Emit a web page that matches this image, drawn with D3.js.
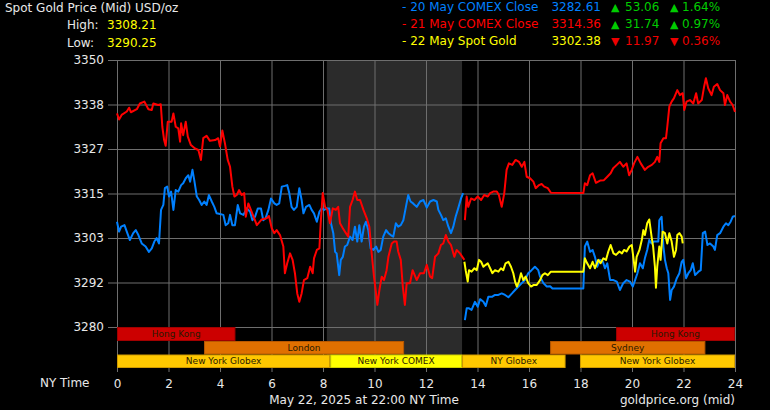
<!DOCTYPE html>
<html>
<head>
<meta charset="utf-8">
<script src="https://cdn.jsdelivr.net/npm/d3@7"></script>
<style>
  body { margin: 0; background: #000; }
  svg { display: block; font-family: "DejaVu Sans", Verdana, sans-serif; }
</style>
</head>
<body>
<svg id="svg"></svg>
<script>
// hours (NY time) and prices; null marks a break in the line
const may20Comex = [
  [0.00,3307.6],[0.08,3305.0],[0.16,3306.3],[0.29,3306.7],[0.38,3305.0],[0.50,3302.8],[0.63,3304.6],[0.73,3305.4],
  [0.83,3304.1],[0.96,3301.9],[1.11,3301.1],[1.24,3299.7],[1.35,3300.6],[1.45,3302.4],[1.54,3303.3],[1.63,3301.9],
  [1.71,3310.7],[1.80,3312.0],[1.86,3316.4],[1.95,3316.8],[2.02,3314.2],[2.10,3315.5],[2.19,3310.7],[2.28,3315.9],
  [2.38,3315.5],[2.49,3317.2],[2.57,3317.7],[2.67,3319.0],[2.77,3319.8],[2.84,3318.1],[2.93,3321.2],[3.00,3318.5],
  [3.10,3314.2],[3.19,3313.3],[3.29,3312.0],[3.39,3312.9],[3.48,3312.0],[3.57,3314.6],[3.68,3312.9],[3.78,3311.5],
  [3.87,3309.8],[4.00,3309.6],[4.13,3309.4],[4.22,3306.7],[4.32,3307.2],[4.39,3309.4],[4.48,3306.7],[4.58,3306.7],
  [4.69,3312.0],[4.78,3309.8],[4.91,3309.4],[5.04,3311.1],[5.17,3310.2],[5.26,3308.0],[5.36,3308.9],[5.47,3311.1],
  [5.59,3311.1],[5.68,3308.0],[5.77,3308.5],[5.88,3310.7],[5.98,3313.7],[6.11,3312.4],[6.20,3312.0],[6.30,3312.4],
  [6.40,3316.8],[6.52,3317.0],[6.61,3317.2],[6.69,3315.1],[6.78,3311.5],[6.87,3310.7],[6.98,3311.5],[7.08,3316.4],
  [7.17,3313.3],[7.24,3309.8],[7.34,3311.5],[7.47,3312.0],[7.56,3310.7],[7.65,3309.8],[7.76,3307.6],[7.86,3310.2],
  [7.95,3311.1],[8.04,3310.7],[8.14,3311.1],[8.24,3311.1],[8.31,3307.2],[8.40,3304.6],[8.47,3299.7],[8.53,3299.3],
  [8.63,3293.6],[8.69,3297.6],[8.77,3298.4],[8.85,3301.1],[8.94,3301.5],[9.05,3303.7],[9.15,3302.8],[9.24,3306.3],
  [9.33,3302.4],[9.41,3306.7],[9.50,3302.4],[9.59,3306.3],[9.67,3307.6],[9.76,3305.4],[9.85,3300.6],[9.96,3300.2],
  [10.06,3301.1],[10.15,3299.7],[10.24,3300.2],[10.34,3303.7],[10.45,3305.4],[10.54,3304.6],[10.63,3304.1],[10.73,3303.7],
  [10.83,3307.2],[10.92,3306.3],[11.02,3306.7],[11.12,3308.0],[11.22,3311.5],[11.31,3314.6],[11.40,3312.9],[11.50,3312.4],
  [11.64,3311.5],[11.77,3312.9],[11.90,3313.3],[12.03,3311.3],[12.16,3312.9],[12.29,3313.3],[12.42,3312.9],[12.48,3310.7],
  [12.58,3309.4],[12.67,3308.0],[12.77,3308.5],[12.87,3306.3],[12.97,3304.6],[13.06,3306.3],[13.15,3308.9],[13.25,3311.1],
  [13.36,3313.7],[13.44,3315.1],[13.47,null],
  [13.51,3281.8],[13.58,3284.9],[13.67,3284.9],[13.77,3284.5],[13.90,3286.6],[14.01,3285.3],[14.10,3287.3],[14.23,3286.6],
  [14.32,3285.5],[14.42,3287.9],[14.56,3287.9],[14.68,3288.4],[14.81,3288.4],[14.94,3288.8],[15.07,3288.4],[15.20,3287.8],
  [15.34,3288.8],[15.46,3289.7],[15.59,3290.6],[15.72,3291.5],[15.84,3292.3],[15.97,3294.1],[16.10,3294.9],[16.23,3295.8],
  [16.36,3294.9],[16.43,3293.2],[16.56,3291.5],[16.69,3290.6],[16.82,3290.7],[16.91,3290.1],[18.11,3290.1],[18.17,3301.1],
  [18.26,3302.4],[18.37,3299.7],[18.47,3300.2],[18.56,3298.4],[18.65,3295.8],[18.76,3297.6],[18.87,3297.1],[18.95,3295.4],
  [19.04,3296.7],[19.15,3292.3],[19.28,3292.3],[19.41,3291.9],[19.53,3289.7],[19.66,3291.5],[19.79,3292.3],[19.92,3291.9],
  [20.03,3290.6],[20.12,3292.3],[20.21,3294.1],[20.31,3296.7],[20.42,3295.4],[20.50,3298.0],[20.59,3300.2],[20.67,3302.8],
  [20.76,3301.9],[20.85,3302.4],[20.93,3302.4],[21.02,3302.4],[21.06,3308.0],[21.15,3308.9],[21.22,3301.1],[21.28,3297.6],
  [21.35,3295.4],[21.41,3294.1],[21.48,3287.1],[21.54,3289.7],[21.63,3290.6],[21.74,3292.8],[21.84,3294.1],[21.93,3297.1],
  [21.99,3297.6],[22.10,3292.8],[22.19,3294.1],[22.28,3294.9],[22.36,3296.7],[22.45,3293.6],[22.58,3294.5],[22.67,3294.9],
  [22.75,3304.6],[22.84,3305.0],[22.93,3301.5],[23.03,3301.9],[23.16,3301.1],[23.22,3300.2],[23.31,3304.1],[23.42,3304.6],
  [23.55,3306.3],[23.65,3307.2],[23.74,3306.7],[23.83,3307.6],[23.91,3308.9],[24.00,3309.1]
];

const may21Comex = [
  [0.00,3336.0],[0.08,3334.4],[0.18,3335.6],[0.38,3336.5],[0.47,3337.5],[0.54,3336.3],[0.77,3337.1],[0.89,3338.6],
  [1.06,3339.1],[1.22,3337.1],[1.35,3336.9],[1.41,3338.6],[1.60,3338.2],[1.70,3338.4],[1.76,3332.5],[1.83,3329.0],
  [1.89,3327.5],[1.97,3333.8],[2.12,3333.8],[2.19,3336.0],[2.28,3332.5],[2.38,3332.1],[2.45,3328.6],[2.49,3333.4],
  [2.57,3330.3],[2.67,3333.8],[2.75,3329.9],[2.87,3327.7],[3.03,3326.8],[3.16,3326.4],[3.26,3323.8],[3.35,3329.5],
  [3.48,3330.1],[3.61,3328.8],[3.81,3329.0],[3.93,3329.5],[4.00,3327.3],[4.09,3331.5],[4.19,3328.2],[4.30,3323.8],
  [4.39,3322.0],[4.48,3316.8],[4.56,3314.2],[4.65,3314.6],[4.74,3315.9],[4.84,3314.6],[4.94,3315.1],[5.00,3308.9],
  [5.10,3312.4],[5.23,3310.2],[5.43,3306.7],[5.62,3308.2],[5.81,3308.5],[5.90,3309.1],[6.01,3305.9],[6.11,3304.6],
  [6.20,3305.4],[6.33,3304.1],[6.46,3301.1],[6.52,3294.1],[6.61,3296.7],[6.72,3299.3],[6.82,3297.6],[6.91,3294.1],
  [7.00,3288.8],[7.08,3286.6],[7.17,3288.8],[7.26,3292.3],[7.39,3292.8],[7.50,3295.8],[7.60,3294.1],[7.65,3298.0],
  [7.76,3300.2],[7.86,3300.6],[7.91,3307.2],[7.99,3315.1],[8.08,3311.5],[8.17,3310.7],[8.27,3307.2],[8.38,3311.1],
  [8.50,3310.7],[8.59,3311.5],[8.66,3307.2],[8.77,3305.9],[8.89,3304.6],[8.98,3303.7],[9.05,3311.5],[9.15,3313.3],
  [9.24,3315.5],[9.33,3313.3],[9.44,3313.3],[9.57,3310.7],[9.70,3308.5],[9.80,3306.3],[9.89,3299.3],[9.98,3293.2],
  [10.06,3288.8],[10.11,3285.8],[10.19,3289.7],[10.28,3293.2],[10.37,3292.3],[10.47,3294.9],[10.54,3298.4],[10.67,3301.9],
  [10.76,3302.4],[10.86,3302.4],[10.92,3299.8],[11.02,3297.6],[11.10,3290.6],[11.18,3285.8],[11.25,3291.5],[11.38,3291.5],
  [11.48,3294.9],[11.64,3292.3],[11.77,3294.1],[11.92,3294.1],[12.03,3296.3],[12.16,3293.2],[12.24,3292.8],[12.35,3298.4],
  [12.48,3299.3],[12.58,3301.5],[12.67,3301.9],[12.77,3304.1],[12.87,3302.4],[12.97,3301.5],[13.10,3298.4],[13.19,3300.2],
  [13.32,3299.3],[13.41,3298.4],[13.49,3297.6],[13.50,null],
  [13.51,3308.0],[13.58,3314.2],[13.64,3311.5],[13.75,3313.7],[13.88,3313.3],[14.01,3314.2],[14.14,3313.3],[14.26,3314.6],
  [14.40,3314.2],[14.49,3315.1],[14.61,3315.5],[14.75,3315.5],[14.83,3314.6],[14.94,3311.5],[15.04,3315.1],[15.13,3321.2],
  [15.22,3322.9],[15.35,3322.5],[15.48,3323.8],[15.61,3323.3],[15.72,3322.0],[15.82,3323.3],[15.91,3319.4],[16.04,3319.0],
  [16.17,3318.1],[16.26,3316.4],[16.39,3317.2],[16.49,3317.5],[16.59,3316.8],[16.73,3316.4],[16.85,3315.2],[18.11,3315.1],
  [18.17,3317.7],[18.26,3317.2],[18.37,3319.8],[18.47,3320.3],[18.60,3317.8],[18.76,3318.4],[18.91,3318.5],[19.04,3319.4],
  [19.17,3320.3],[19.27,3321.6],[19.41,3322.5],[19.53,3323.3],[19.66,3322.0],[19.79,3322.9],[19.89,3319.8],[19.99,3321.2],
  [20.08,3322.9],[20.21,3324.6],[20.34,3322.9],[20.50,3321.2],[20.63,3322.0],[20.77,3322.5],[20.89,3323.3],[20.98,3324.6],
  [21.06,3323.3],[21.11,3328.2],[21.22,3329.5],[21.32,3329.5],[21.37,3332.5],[21.45,3337.8],[21.54,3339.1],[21.63,3340.0],
  [21.76,3342.1],[21.86,3340.8],[21.97,3341.3],[22.03,3336.9],[22.12,3339.1],[22.25,3339.5],[22.38,3338.6],[22.49,3341.3],
  [22.57,3338.6],[22.71,3339.5],[22.80,3343.0],[22.87,3345.2],[22.96,3342.6],[23.09,3340.8],[23.18,3343.0],[23.31,3343.7],
  [23.42,3342.1],[23.55,3341.3],[23.61,3338.2],[23.70,3340.8],[23.81,3339.1],[23.91,3338.2],[24.00,3336.4]
];

const may22Spot = [
  [13.49,3297.1],[13.54,3294.9],[13.62,3291.9],[13.67,3294.9],[13.77,3294.5],[13.88,3295.4],[13.97,3294.9],[14.06,3297.6],
  [14.14,3297.1],[14.23,3295.8],[14.32,3296.3],[14.40,3296.7],[14.49,3295.4],[14.58,3294.1],[14.68,3294.9],[14.81,3294.5],
  [14.91,3295.4],[15.00,3294.9],[15.09,3296.7],[15.20,3297.1],[15.30,3295.8],[15.39,3294.1],[15.46,3291.9],[15.53,3290.6],
  [15.61,3291.9],[15.69,3294.1],[15.78,3292.3],[15.87,3293.2],[15.97,3291.5],[16.08,3290.6],[16.17,3291.0],[16.30,3291.0],
  [16.43,3292.3],[16.52,3293.6],[16.62,3294.1],[16.73,3293.6],[16.85,3294.5],[16.98,3294.5],[18.11,3294.5],[18.17,3298.0],
  [18.26,3296.7],[18.37,3295.4],[18.47,3297.1],[18.56,3295.4],[18.69,3297.6],[18.78,3296.7],[18.89,3298.0],[18.99,3297.6],
  [19.08,3299.8],[19.17,3301.5],[19.28,3299.3],[19.38,3298.9],[19.51,3299.8],[19.61,3299.3],[19.69,3300.2],[19.79,3299.8],
  [19.90,3301.1],[19.99,3301.5],[20.05,3298.4],[20.12,3294.5],[20.18,3298.4],[20.29,3300.2],[20.38,3302.8],[20.44,3305.4],
  [20.50,3304.1],[20.59,3307.2],[20.67,3308.2],[20.76,3303.7],[20.82,3301.1],[20.89,3295.8],[20.93,3290.3],[20.98,3295.8],
  [21.06,3301.1],[21.11,3297.6],[21.19,3305.0],[21.28,3304.6],[21.37,3301.9],[21.45,3304.6],[21.54,3302.4],[21.63,3298.4],
  [21.71,3300.2],[21.76,3304.1],[21.84,3304.6],[21.93,3303.7],[21.97,3301.9]
];

// trading sessions: row 0 = top
const sessionNames = ["Hong Kong", "London", "New York Globex", "New York COMEX", "NY Globex", "Sydney", "New York Globex", "Hong Kong"];
const sessionRows  = [0, 1, 2, 2, 2, 1, 2, 0];
const sessionStart = [0, 3.38, 0, 8.28, 13.4, 16.82, 17.98, 19.38];
const sessionEnd   = [4.6, 11.15, 8.28, 13.4, 17.42, 22.85, 24, 24];
const comexHours = [8.15, 13.4];

const xTicks = [0, 2, 4, 6, 8, 10, 12, 14, 16, 18, 20, 22, 24];
const yTicks = d3.range(7).map(i => 3280 + i * 70 / 6);

const legendLabels  = ["- 20 May COMEX Close", "- 21 May COMEX Close", "- 22 May Spot Gold"];
const legendValues  = ["3282.61", "3314.36", "3302.38"];
const legendChanges = ["53.06", "31.74", "11.97"];
const legendPcts    = ["1.64%", "0.97%", "0.36%"];
const legendUp      = [true, true, false];
const highLow = [["High:", "3308.21"], ["Low:", "3290.25"]];

function sketch() {
  const svg = d3.select("#svg").attr("width", 770).attr("height", 410);
  const textColor = "#e8e8e8";
  const gridColor = "#6e6e6e";
  const lineColors = ["#0080ff", "#ff0000", "#ffff00"];
  const sessionFill = {
    "Hong Kong": "#cc0000", "London": "#e07000", "Sydney": "#e07000",
    "New York Globex": "#ffc800", "NY Globex": "#ffc800", "New York COMEX": "#ffff00"
  };
  const sessionStroke = {
    "Hong Kong": "#a00000", "London": "#b85800", "Sydney": "#b85800",
    "New York Globex": "#d09a00", "NY Globex": "#d09a00", "New York COMEX": "#d0d000"
  };

  const x = d3.scaleLinear().domain([0, 24]).range([117, 735]);
  const y = d3.scaleLinear().domain([3280, 3350]).range([327, 60]);
  const rowTop = [327, 341, 354.5];
  const rowH = [14, 13.5, 13.5];

  // comex shading
  svg.append("rect")
    .attr("x", x(comexHours[0])).attr("y", 60)
    .attr("width", x(comexHours[1]) - x(comexHours[0]))
    .attr("height", 308)
    .attr("fill", "#2b2b2b");

  // y axis + horizontal grid
  const yAxis = svg.append("g")
    .attr("transform", "translate(108,0)")
    .call(d3.axisLeft(y).tickValues(yTicks).tickFormat(d3.format(".0f"))
      .tickSizeInner(-627).tickSizeOuter(0).tickPadding(4));
  yAxis.select(".domain").remove();
  yAxis.selectAll("line").attr("stroke", gridColor);
  yAxis.selectAll("text").attr("fill", textColor).attr("font-size", 12)
    .attr("font-family", "DejaVu Sans");

  // x axis + vertical grid
  const xAxis = svg.append("g")
    .attr("transform", "translate(0,372)")
    .call(d3.axisBottom(x).tickValues(xTicks).tickFormat(d3.format("d"))
      .tickSizeInner(-312).tickSizeOuter(0).tickPadding(7));
  xAxis.select(".domain").remove();
  xAxis.selectAll("line").attr("stroke", gridColor);
  xAxis.selectAll("text").attr("fill", textColor).attr("font-size", 12)
    .attr("font-family", "DejaVu Sans");

  // sessions
  const sess = svg.append("g").selectAll("g")
    .data(sessionNames.map((n, i) => ({ name: n, row: sessionRows[i], s: sessionStart[i], e: sessionEnd[i] })))
    .enter().append("g");
  sess.append("rect")
    .attr("x", d => x(d.s) + 0.5)
    .attr("y", d => rowTop[d.row] + 0.5)
    .attr("width", d => x(d.e) - x(d.s) - 1)
    .attr("height", d => rowH[d.row] - 1)
    .attr("fill", d => sessionFill[d.name])
    .attr("stroke", d => sessionStroke[d.name])
    .attr("stroke-width", 1);
  sess.append("text")
    .attr("x", d => (x(d.s) + x(d.e)) / 2)
    .attr("y", d => rowTop[d.row] + rowH[d.row] / 2)
    .attr("dy", "0.35em")
    .attr("text-anchor", "middle")
    .attr("font-size", 9)
    .attr("fill", "#2a1a00")
    .text(d => d.name);

  // price lines
  const line = d3.line()
    .defined(d => d[1] != null)
    .x(d => x(d[0]))
    .y(d => y(d[1]));
  svg.append("g").selectAll("path")
    .data([may20Comex, may21Comex, may22Spot])
    .enter().append("path")
    .attr("d", line)
    .attr("fill", "none")
    .attr("stroke", (d, i) => lineColors[i])
    .attr("stroke-width", 2)
    .attr("stroke-linejoin", "round");

  // header
  svg.append("text").attr("x", 5).attr("y", 8).attr("dy", "0.35em")
    .attr("font-size", 12).attr("fill", textColor)
    .text("Spot Gold Price (Mid) USD/oz");
  highLow.forEach((hl, i) => {
    svg.append("text").attr("x", 67).attr("y", 25 + i * 18).attr("dy", "0.35em")
      .attr("font-size", 12).attr("fill", textColor).text(hl[0]);
    svg.append("text").attr("x", 107).attr("y", 25 + i * 18).attr("dy", "0.35em")
      .attr("font-size", 12).attr("fill", "#ffff00").text(hl[1]);
  });

  // legend
  const leg = svg.append("g").selectAll("g")
    .data(legendLabels).enter().append("g")
    .attr("transform", (d, i) => `translate(0,${7 + i * 17})`);
  leg.append("text").attr("x", 402).attr("dy", "0.35em").attr("font-size", 12)
    .attr("fill", (d, i) => lineColors[i]).text(d => d);
  leg.append("text").attr("x", 601).attr("dy", "0.35em").attr("font-size", 12)
    .attr("text-anchor", "end")
    .attr("fill", (d, i) => lineColors[i]).text((d, i) => legendValues[i]);
  const chg = (d, i) => legendUp[i] ? "#00cc00" : "#ee0000";
  leg.append("text").attr("x", 611).attr("dy", "0.35em").attr("font-size", 11)
    .attr("fill", chg).text((d, i) => legendUp[i] ? "▲" : "▼");
  leg.append("text").attr("x", 625).attr("dy", "0.35em").attr("font-size", 12)
    .attr("fill", chg).text((d, i) => legendChanges[i]);
  leg.append("text").attr("x", 670).attr("dy", "0.35em").attr("font-size", 11)
    .attr("fill", chg).text((d, i) => legendUp[i] ? "▲" : "▼");
  leg.append("text").attr("x", 682).attr("dy", "0.35em").attr("font-size", 12)
    .attr("fill", chg).text((d, i) => legendPcts[i]);

  // footer
  svg.append("text").attr("x", 40).attr("y", 383).attr("dy", "0.35em")
    .attr("font-size", 12).attr("fill", textColor).text("NY Time");
  svg.append("text").attr("x", 364).attr("y", 400).attr("dy", "0.35em")
    .attr("text-anchor", "middle")
    .attr("font-size", 12).attr("fill", textColor).text("May 22, 2025 at 22:00 NY Time");
  svg.append("text").attr("x", 735).attr("y", 400).attr("dy", "0.35em")
    .attr("text-anchor", "end")
    .attr("font-size", 12).attr("fill", textColor).text("goldprice.org (mid)");
}

sketch();
</script>
</body>
</html>
